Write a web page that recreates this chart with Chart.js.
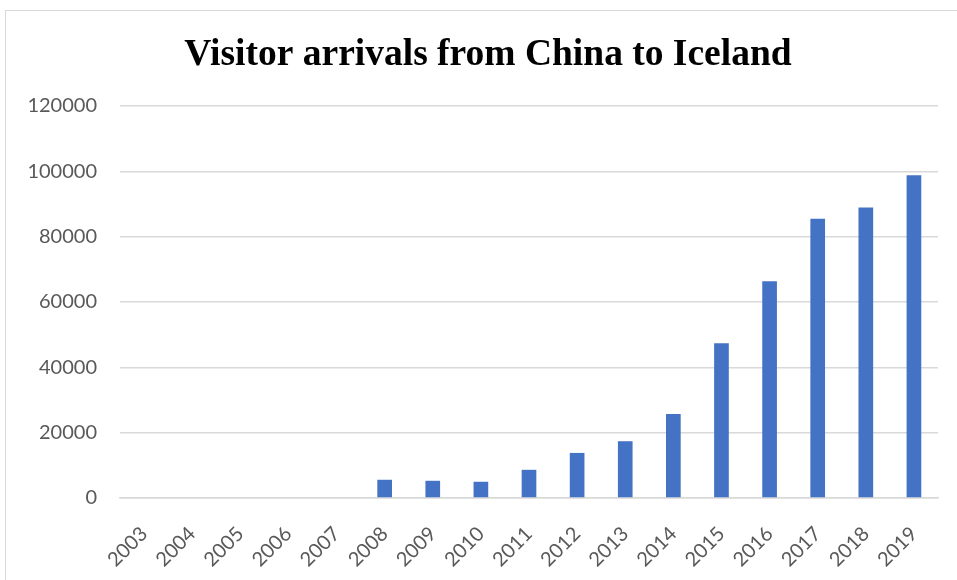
<!DOCTYPE html>
<html>
<head>
<meta charset="utf-8">
<script src="https://cdn.jsdelivr.net/npm/chart.js@4.4.1/dist/chart.umd.min.js"></script>
<style>
  html, body { margin: 0; padding: 0; background: #fff; overflow: hidden; }
  #wrap { position: relative; width: 957px; height: 580px; overflow: hidden; }
  #frame { position: absolute; left: 5px; top: 10px; width: 1000px; height: 700px; border: 1px solid #d9d9d9; box-sizing: border-box; }
  canvas { position: absolute; left: 0; top: 0; }
</style>
</head>
<body>
<div id="wrap">
  <div id="frame"></div>
  <canvas id="canvas" width="976" height="580"></canvas>
</div>
<script>
// yearly arrivals, 2003-2019
var years = ["2003","2004","2005","2006","2007","2008","2009","2010","2011","2012","2013","2014","2015","2016","2017","2018","2019"];
var arrivals = [0, 0, 0, 0, 0, 5580, 5270, 4970, 8630, 13800, 17380, 25700, 47350, 66340, 85460, 88900, 98780];
var yTicks = [0, 20000, 40000, 60000, 80000, 100000, 120000];

var gridColor = "#d9d9d9";
var labelColor = "#595959";
var labelFont = { family: "Lato, 'Open Sans', sans-serif", size: 20 };

var ctx = document.getElementById("canvas").getContext("2d");
window.myBar = new Chart(ctx, {
  type: "bar",
  data: {
    labels: years,
    datasets: [{
      data: arrivals,
      backgroundColor: "#4472c4",
      borderWidth: 0,
      barPercentage: 0.305,
      categoryPercentage: 1,
      yAxisID: "y"
    }]
  },
  options: {
    responsive: false,
    animation: false,
    layout: { padding: 0 },
    plugins: {
      legend: { display: false },
      tooltip: { enabled: false },
      title: {
        display: true,
        text: "Visitor arrivals from China to Iceland",
        color: "#000",
        font: { family: "'Liberation Serif', 'Times New Roman', serif", size: 37.5, weight: "bold", lineHeight: 1.2 },
        padding: { top: 33, bottom: 28 }
      }
    },
    scales: {
      x: {
        grid: { display: false, drawTicks: false },
        border: { color: gridColor, width: 1.5 },
        ticks: {
          color: labelColor,
          font: labelFont,
          minRotation: 45,
          maxRotation: 45,
          padding: 24,
          autoSkip: false
        },
        afterFit: function(scale) { scale.height = 82; }
      },
      y: {
        min: 0,
        max: 120000,
        afterBuildTicks: function(scale) {
          scale.ticks = yTicks.map(function(v) { return { value: v }; });
        },
        grid: { color: gridColor, lineWidth: 1.5, drawTicks: false },
        border: { display: false },
        ticks: {
          color: labelColor,
          font: labelFont,
          padding: 23,
          callback: function(v) { return String(v); }
        },
        afterFit: function(scale) { scale.width = 120; }
      },
      // empty spacer on the right so the plot ends short of the canvas edge
      spacer: {
        position: "right",
        min: 0,
        max: 1,
        grid: { display: false, drawTicks: false },
        border: { display: false },
        ticks: { display: false },
        afterFit: function(scale) { scale.width = 38; }
      }
    }
  }
});
</script>
</body>
</html>
